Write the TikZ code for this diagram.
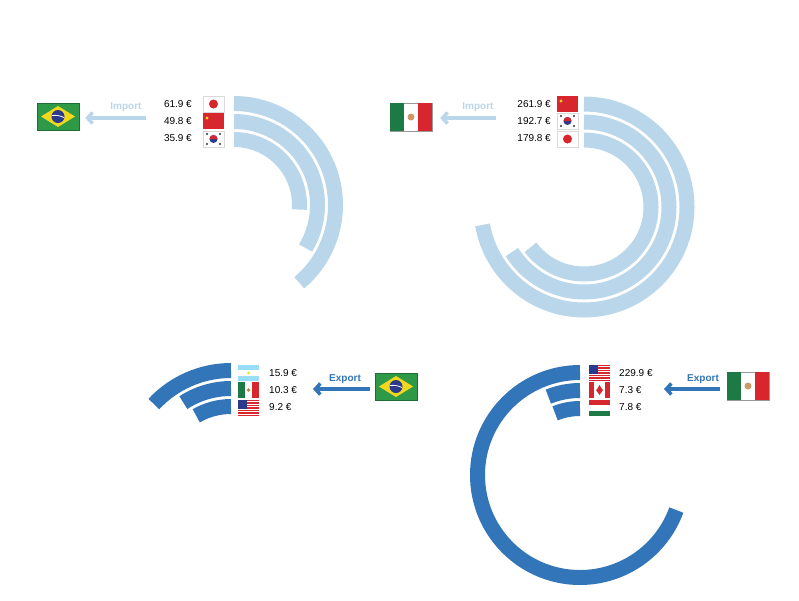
\documentclass[tikz,border=0pt]{standalone}
\usepackage{fontspec}
\setmainfont{Liberation Sans}
\usetikzlibrary{arrows.meta}
\definecolor{lb}{HTML}{B9D6EA}
\definecolor{db}{HTML}{3275B9}
\definecolor{fgreen}{HTML}{2E9A48}
\definecolor{fred}{HTML}{D8262E}
\definecolor{fyel}{HTML}{F2D81C}
\definecolor{fnavy}{HTML}{2B3A8C}
\definecolor{mgreen}{HTML}{1E7A45}
\tikzset{
 lring/.style={draw=lb,line width=15pt,line cap=butt},
 dring/.style={draw=db,line width=15pt,line cap=butt},
 lbl/.style={font=\fontsize{10}{12}\selectfont,inner sep=0pt},
 ttl/.style={font=\bfseries\fontsize{10}{12}\selectfont,inner sep=0pt},
 larrow/.style={draw=lb,line width=3.5pt,-{Straight Barb[length=5pt,width=11pt]}},
 darrow/.style={draw=db,line width=3.5pt,-{Straight Barb[length=5pt,width=11pt]}},
}
\newcommand\fJP[1]{\begin{scope}[shift={(#1)}]\fill[white,draw=black!15] (0,0) rectangle (21,16);\fill[fred] (10.5,8) circle (4.5);\end{scope}}
\newcommand\fCN[1]{\begin{scope}[shift={(#1)}]\fill[fred] (0,0) rectangle (21,16);\fill[fyel] (4,11) circle (1.6);\end{scope}}
\newcommand\fKR[1]{\begin{scope}[shift={(#1)}]\fill[white,draw=black!15] (0,0) rectangle (21,16);\fill[fnavy] (10.5,8) circle (4);\fill[fred] (6.5,8) arc[start angle=180,end angle=0,radius=4] -- cycle;
 \foreach \p in {(4,13),(17,13),(4,3),(17,3)}{\fill[black!80] \p circle (1.2);}\end{scope}}
\newcommand\fAR[1]{\begin{scope}[shift={(#1)}]\fill[white] (0,0) rectangle (21,16);\fill[cyan!40] (0,0) rectangle (21,5.3);\fill[cyan!40] (0,10.7) rectangle (21,16);\fill[fyel] (10.5,8) circle (1.3);\end{scope}}
\newcommand\fMXs[1]{\begin{scope}[shift={(#1)}]\fill[white] (0,0) rectangle (21,16);\fill[mgreen] (0,0) rectangle (7,16);\fill[fred] (14,0) rectangle (21,16);\fill[brown] (10.5,8) circle (1.8);\end{scope}}
\newcommand\fUS[1]{\begin{scope}[shift={(#1)}]\fill[white] (0,0) rectangle (21,16);\foreach \i in {0,2,...,12}{\fill[fred] (0,\i*16/13) rectangle (21,\i*16/13+16/13);}\fill[fnavy] (0,16*6/13) rectangle (9,16);\end{scope}}
\newcommand\fCA[1]{\begin{scope}[shift={(#1)}]\fill[white] (0,0) rectangle (21,16);\fill[fred] (0,0) rectangle (5,16);\fill[fred] (16,0) rectangle (21,16);\fill[fred] (10.5,3) -- (7,8) -- (8.5,9.5) -- (10.5,13) -- (12.5,9.5) -- (14,8) -- cycle;\end{scope}}
\newcommand\fHU[1]{\begin{scope}[shift={(#1)}]\fill[white] (0,0) rectangle (21,16);\fill[fred] (0,10.7) rectangle (21,16);\fill[mgreen] (0,0) rectangle (21,5.3);\end{scope}}
\newcommand\fBR[1]{\begin{scope}[shift={(#1)}]\fill[fgreen,draw=fgreen!70!black] (0,0) rectangle (42,27);\fill[fyel] (4,13.5) -- (21,24) -- (38,13.5) -- (21,3) -- cycle;\fill[fnavy] (21,13.5) circle (6.5);\draw[white,line width=0.8pt] (15,14.5) to[bend left=15] (27,12.5);\end{scope}}
\newcommand\fMX[1]{\begin{scope}[shift={(#1)}]\fill[white,draw=black!40] (0,0) rectangle (42,28);\fill[mgreen] (0,0) rectangle (14,28);\fill[fred] (28,0) rectangle (42,28);\fill[brown!80] (21,14) circle (3.5);\end{scope}}
\begin{document}
\begin{tikzpicture}[x=1pt,y=1pt]
\useasboundingbox (0,0) rectangle (799,-600);
% ---- top left: Brazil import
\coordinate (c1) at (234,-205);
\draw[lring] ([shift={(90:101.5)}]c1) arc[start angle=90,end angle=-50,radius=101.5];
\draw[lring] ([shift={(90:83.5)}]c1) arc[start angle=90,end angle=-31,radius=83.5];
\draw[lring] ([shift={(90:65.5)}]c1) arc[start angle=90,end angle=-4,radius=65.5];
\fJP{203,-112}\fCN{203,-129}\fKR{203,-147}
\node[lbl,anchor=east] (t1a) at (192,-104) {61.9 €};
\node[lbl,anchor=east] (t1b) at (192,-121) {49.8 €};
\node[lbl,anchor=east] (t1c) at (192,-138) {35.9 €};
\fBR{37,-130}
\node[inner sep=0pt,minimum width=42pt,minimum height=27pt] (br1) at (58,-116.5) {};
\coordinate (a1) at (146,-118);
\draw[larrow] (a1) -- ([xshift=6pt]br1.east |- a1);
\node[ttl,text=lb] (i1) at (126,-107) {Import};
% ---- top right: Mexico import
\coordinate (c2) at (584,-207);
\draw[lring] ([shift={(90:103)}]c2) arc[start angle=90,end angle=-170,radius=103];
\draw[lring] ([shift={(90:85)}]c2) arc[start angle=90,end angle=-148,radius=85];
\draw[lring] ([shift={(90:67)}]c2) arc[start angle=90,end angle=-143,radius=67];
\fCN{557,-112}\fKR{557,-129}\fJP{557,-147}
\node[lbl,anchor=east] at (551,-104) {261.9 €};
\node[lbl,anchor=east] at (551,-121) {192.7 €};
\node[lbl,anchor=east] at (551,-138) {179.8 €};
\fMX{390,-131}
\node[inner sep=0pt,minimum width=42pt,minimum height=28pt] (mx1) at (411,-117) {};
\coordinate (a2) at (496,-118);
\draw[larrow] (a2) -- ([xshift=8pt]mx1.east |- a2);
\node[ttl,text=lb] at (478,-107) {Import};
% ---- bottom left: Brazil export
\coordinate (c3) at (231,-476);
\draw[dring] ([shift={(90:105.5)}]c3) arc[start angle=90,end angle=137,radius=105.5];
\draw[dring] ([shift={(90:87.5)}]c3) arc[start angle=90,end angle=123,radius=87.5];
\draw[dring] ([shift={(90:69.5)}]c3) arc[start angle=90,end angle=120,radius=69.5];
\fAR{238,-381}\fMXs{238,-398}\fUS{238,-416}
\node[lbl,anchor=west] at (269,-373) {15.9 €};
\node[lbl,anchor=west] at (269,-390) {10.3 €};
\node[lbl,anchor=west] at (269,-407) {9.2 €};
\fBR{375,-400}
\node[inner sep=0pt,minimum width=42pt,minimum height=27pt] (br2) at (396,-386.5) {};
\coordinate (a3) at (370,-389);
\draw[darrow] (a3) -- (313,-389);
\node[ttl,text=db] at (345,-379) {Export};
% ---- bottom right: Mexico export
\coordinate (c4) at (580,-475);
\draw[dring] ([shift={(90:102.5)}]c4) arc[start angle=90,end angle=340,radius=102.5];
\draw[dring] ([shift={(90:84.5)}]c4) arc[start angle=90,end angle=112,radius=84.5];
\draw[dring] ([shift={(90:66.5)}]c4) arc[start angle=90,end angle=112,radius=66.5];
\fUS{589,-381}\fCA{589,-398}\fHU{589,-416}
\node[lbl,anchor=west] at (619,-373) {229.9 €};
\node[lbl,anchor=west] at (619,-390) {7.3 €};
\node[lbl,anchor=west] at (619,-407) {7.8 €};
\fMX{727,-400}
\node[inner sep=0pt,minimum width=42pt,minimum height=28pt] (mx2) at (748,-386) {};
\coordinate (a4) at (720,-389);
\draw[darrow] (a4) -- (664,-389);
\node[ttl,text=db] at (703,-379) {Export};
\end{tikzpicture}
\end{document}
